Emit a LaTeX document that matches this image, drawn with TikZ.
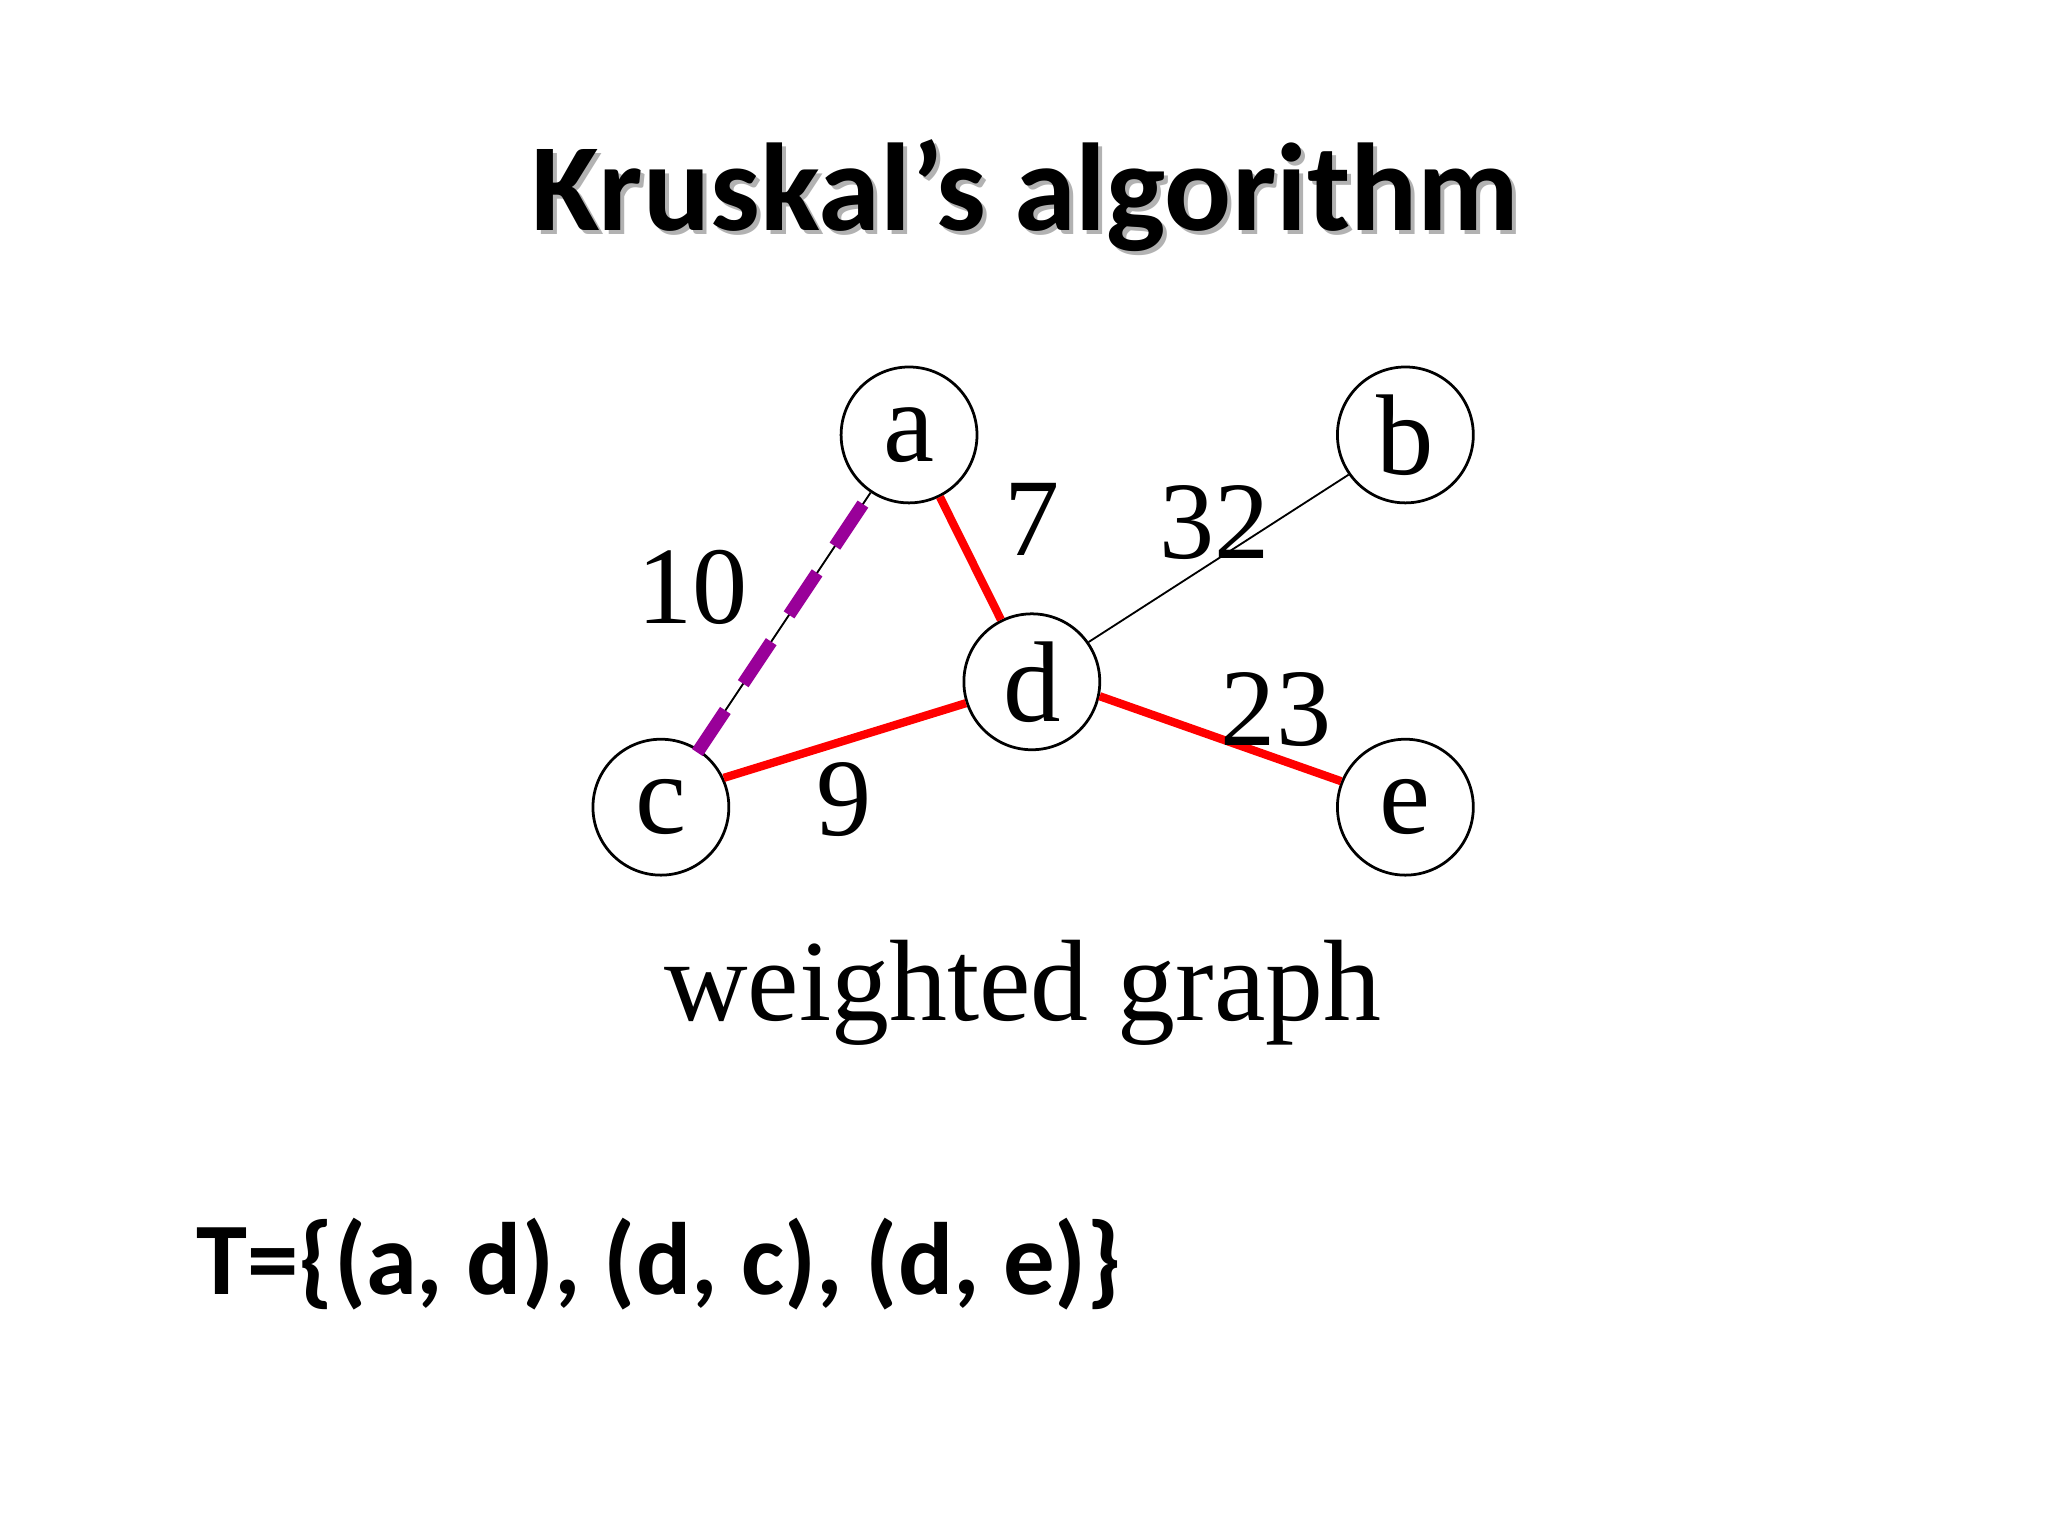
\documentclass[tikz,border=0pt]{standalone}
\usepackage{fontspec}
\setmainfont{Liberation Serif}
\newfontfamily\calfont{Carlito}
\begin{document}
\begin{tikzpicture}[x=0.01cm,y=-0.01cm,
  vtx/.style={circle,draw,line width=0.6pt,minimum size=1.04cm,inner sep=0pt,font=\fontsize{25}{25}\selectfont},
  wt/.style={font=\fontsize{24}{24}\selectfont},
  tree/.style={red,line width=1.8pt},
  thin/.style={black,line width=0.4pt}]
\useasboundingbox (0,0) rectangle (1568,1176);
\node[font=\calfont\bfseries\fontsize{27.2}{27.2}\selectfont,text=gray!60] at (788,153) {Kruskal’s algorithm};
\node (title) [font=\calfont\bfseries\fontsize{27.2}{27.2}\selectfont] at (785,150) {Kruskal’s algorithm};
\node[vtx] (a) at (696,333) {a};
\node[vtx] (b) at (1076,333) {b};
\node[vtx] (d) at (790,522) {d};
\node[vtx] (c) at (506,618) {c};
\node[vtx] (e) at (1076,618) {e};
\draw[thin] (d.35) -- (b.215);
\draw[thin] (a) -- (c);
\draw[violet!80!magenta,line width=2.8pt,dash pattern=on 11pt off 7pt,shorten <=3pt,shorten >=-2pt] (a) -- (c);
\draw[tree] (a) -- (d);
\draw[tree] (c.25) -- (d.198);
\draw[tree] (d.-12) -- (e.158);
\node[wt] (w10) at (530,450) {10};
\node[wt] (w7) at (790,398) {7};
\node[wt] (w32) at (930,400) {32};
\node[wt] (w23) at (977,543) {23};
\node[wt] (w9) at (646,612) {9};
\node (cap) [font=\fontsize{25.2}{25.2}\selectfont] at (783,760) {weighted graph};
\node (T) [anchor=west,font=\calfont\bfseries\fontsize{22.4}{22.4}\selectfont] at (138,968) {T=\{(a, d), (d, c), (d, e)\}};
\end{tikzpicture}
\end{document}
